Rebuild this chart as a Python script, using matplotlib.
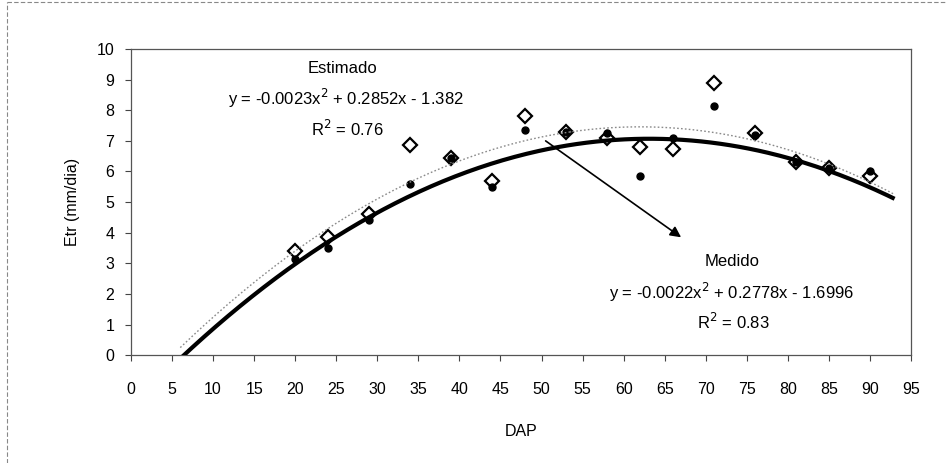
import numpy as np
import matplotlib
matplotlib.use("Agg")
import matplotlib.pyplot as plt
from matplotlib.lines import Line2D

plt.rcParams['font.family'] = ['Liberation Sans', 'DejaVu Sans']

# Days after planting and evapotranspiration (mm/dia)
dap = [20, 24, 29, 34, 39, 44, 48, 53, 58, 62, 66, 71, 76, 81, 85, 90]
estimado = [3.4, 3.85, 4.6, 6.85, 6.45, 5.7, 7.8, 7.3, 7.1, 6.8, 6.75, 8.9, 7.25, 6.3, 6.1, 5.85]
medido = [3.15, 3.5, 4.4, 5.6, 6.45, 5.5, 7.35, 7.3, 7.25, 5.85, 7.1, 8.15, 7.2, 6.3, 6.1, 6.0]

# Second-order polynomial fits (a*x^2 + b*x + c) and their R^2
coef_estimado = [-0.0023, 0.2852, -1.382]
coef_medido = [-0.0022, 0.2778, -1.6996]
r2_estimado = 0.76
r2_medido = 0.83
trend_range = [6, 93]

x_ticks = list(range(0, 100, 5))
y_ticks = list(range(0, 11))

fig = plt.figure(figsize=(9.46, 4.63), dpi=100)
ax = fig.add_axes([0.1385, 0.233, 0.8245, 0.661])

xs = np.linspace(trend_range[0], trend_range[1], 300)
ax.plot(xs, np.polyval(coef_estimado, xs), color='#8a8a8a', lw=1.0,
        linestyle=(0, (1.2, 1.6)), zorder=4)
ax.plot(xs, np.polyval(coef_medido, xs), color='black', lw=3.0,
        solid_capstyle='butt', zorder=5)

ax.plot(dap, estimado, linestyle='none', marker='D', ms=7.5, mfc='white',
        mec='black', mew=1.6, zorder=3)
ax.plot(dap, medido, linestyle='none', marker='o', ms=5, mfc='black',
        mec='black', zorder=3.5)

ax.set_xlim(0, 95)
ax.set_ylim(0, 10)
ax.set_xticks(x_ticks)
ax.set_yticks(y_ticks)
ax.tick_params(direction='out', length=4, width=0.8, color='#444444',
               labelsize=11.5)
ax.tick_params(axis='x', pad=15)
ax.tick_params(axis='y', pad=8)
for s in ax.spines.values():
    s.set_color('#555555')
    s.set_linewidth(0.9)

ax.set_xlabel('DAP', fontsize=11.5, labelpad=20)
ax.set_ylabel('Etr (mm/dia)', fontsize=11.5, labelpad=12)


def equation(c):
    return 'y = %.4fx$^2$ + %.4fx - %g' % (c[0], c[1], abs(c[2]))


fs = 12
ax.text(25.8, 9.35, 'Estimado', ha='center', va='center', fontsize=fs)
ax.text(26.2, 8.4, equation(coef_estimado), ha='center', va='center', fontsize=fs)
ax.text(26.4, 7.4, 'R$^2$ = %.2f' % r2_estimado, ha='center', va='center', fontsize=fs)

ax.text(73.2, 3.05, 'Medido', ha='center', va='center', fontsize=fs)
ax.text(73.2, 2.06, equation(coef_medido), ha='center', va='center', fontsize=fs)
ax.text(73.4, 1.08, 'R$^2$ = %.2f' % r2_medido, ha='center', va='center', fontsize=fs)

ax.annotate('', xy=(67, 3.85), xytext=(50.5, 7.0),
            arrowprops=dict(arrowstyle='-|>', color='black', lw=1.2,
                            mutation_scale=16, shrinkA=0, shrinkB=0), zorder=6)

# outer chart frame (top and left edges)
fig.add_artist(Line2D([0.007, 0.999], [0.995, 0.995], transform=fig.transFigure,
                      color='#888888', lw=0.8, linestyle=(0, (4, 2))))
fig.add_artist(Line2D([0.007, 0.007], [0.0, 0.995], transform=fig.transFigure,
                      color='#888888', lw=0.8, linestyle=(0, (4, 2))))

fig.savefig('out.png', dpi=100)
